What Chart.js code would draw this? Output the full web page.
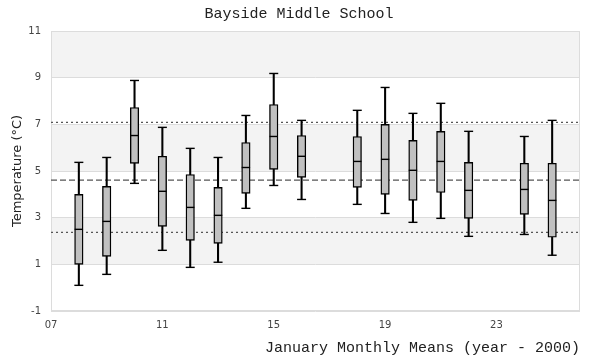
<!DOCTYPE html>
<html>
<head>
<meta charset="utf-8">
<script src="https://cdn.jsdelivr.net/npm/chart.js@4.4.0/dist/chart.umd.min.js"></script>
<style>
  html, body { margin: 0; padding: 0; background: #fff; }
  #wrap { width: 600px; height: 360px; }
</style>
</head>
<body>
<div id="wrap"><canvas id="boxChart" width="600" height="360"></canvas></div>
<script>
// January monthly means, year - 2000
const years   = [8, 9, 10, 11, 12, 13, 14, 15, 16, 18, 19, 20, 21, 22, 24, 25];
const mins    = [0.10, 0.57, 4.47, 1.60, 0.87, 1.09, 3.40, 4.38, 3.78, 3.57, 3.18, 2.80, 2.97, 2.20, 2.28, 1.39];
const q1s     = [1.00, 1.34, 5.33, 2.63, 2.03, 1.90, 4.04, 5.07, 4.73, 4.30, 4.00, 3.74, 4.08, 2.97, 3.14, 2.16];
const medians = [2.50, 2.84, 6.52, 4.13, 3.44, 3.10, 5.15, 6.48, 5.63, 5.41, 5.50, 5.03, 5.41, 4.17, 4.21, 3.74];
const q3s     = [4.00, 4.34, 7.72, 5.63, 4.85, 4.30, 6.22, 7.85, 6.52, 6.48, 7.00, 6.31, 6.70, 5.37, 5.33, 5.33];
const maxs    = [5.37, 5.58, 8.88, 6.87, 5.97, 5.58, 7.38, 9.18, 7.17, 7.60, 8.58, 7.47, 7.90, 6.70, 6.48, 7.17];

// overall mean and +/- one std dev
const meanTemp = 4.61;
const upperTemp = 7.08;
const lowerTemp = 2.37;

const xTicks = [7, 11, 15, 19, 23];
const xMin = 7, xMax = 26;
const yMin = -1, yMax = 11, yStep = 2;

const pts = (arr) => years.map((x, i) => ({ x: x, y: arr[i] }));
const hline = (v) => [{ x: xMin, y: v }, { x: xMax, y: v }];

// alternating bands + frame
const bandsPlugin = {
    id: 'bands',
    beforeDraw(chart) {
        const { ctx, chartArea: a, scales: { y } } = chart;
        const ticks = y.ticks;
        ctx.save();
        ctx.fillStyle = '#f3f3f3';
        for (let i = 0; i < ticks.length - 1; i++) {
            if (i % 2 === 1) {
                const top = y.getPixelForValue(ticks[i + 1].value);
                const bot = y.getPixelForValue(ticks[i].value);
                ctx.fillRect(a.left, top, a.right - a.left, bot - top);
            }
        }
        ctx.restore();
    },
    beforeDatasetsDraw(chart) {
        const { ctx, chartArea: a } = chart;
        ctx.save();
        ctx.strokeStyle = '#dcdcdc';
        ctx.lineWidth = 1;
        ctx.strokeRect(a.left + 0.5, a.top + 0.5, a.right - a.left - 1, a.bottom - a.top - 1);
        ctx.restore();
    }
};

const ctx = document.getElementById('boxChart').getContext('2d');
const chart = new Chart(ctx, {
    type: 'bar',
    data: {
        datasets: [
            {
                type: 'line',
                data: hline(upperTemp),
                borderColor: '#555',
                borderWidth: 1.2,
                borderDash: [2, 3],
                pointRadius: 0,
                order: 10
            },
            {
                type: 'line',
                data: hline(meanTemp),
                borderColor: '#555',
                borderWidth: 1.2,
                borderDash: [6, 3],
                pointRadius: 0,
                order: 10
            },
            {
                type: 'line',
                data: hline(lowerTemp),
                borderColor: '#555',
                borderWidth: 1.2,
                borderDash: [2, 3],
                pointRadius: 0,
                order: 10
            },
            // whiskers
            {
                data: years.map((x, i) => ({ x: x, y: [mins[i], maxs[i]] })),
                backgroundColor: '#000',
                borderWidth: 0,
                barThickness: 1.4,
                grouped: false,
                order: 5
            },
            // boxes
            {
                data: years.map((x, i) => ({ x: x, y: [q1s[i], q3s[i]] })),
                backgroundColor: '#c0c0c0',
                borderColor: '#000',
                borderWidth: 1.4,
                borderSkipped: false,
                barThickness: 8.5,
                grouped: false,
                order: 4
            },
            // medians
            {
                type: 'scatter',
                data: pts(medians),
                pointStyle: 'line',
                radius: 4.2,
                borderColor: '#000',
                borderWidth: 1.4,
                order: 1
            },
            // caps
            {
                type: 'scatter',
                data: pts(maxs),
                pointStyle: 'line',
                radius: 4.5,
                borderColor: '#000',
                borderWidth: 1.4,
                order: 1
            },
            {
                type: 'scatter',
                data: pts(mins),
                pointStyle: 'line',
                radius: 4.5,
                borderColor: '#000',
                borderWidth: 1.4,
                order: 1
            }
        ]
    },
    options: {
        responsive: false,
        animation: false,
        layout: {
            padding: { left: 10, right: 12, top: 0, bottom: 1 }
        },
        plugins: {
            legend: { display: false },
            tooltip: { enabled: false },
            title: {
                display: true,
                text: 'Bayside Middle School',
                color: '#222',
                font: { family: 'Liberation Mono', size: 15, weight: 'normal' },
                padding: { top: 5, bottom: 8 }
            }
        },
        scales: {
            x: {
                type: 'linear',
                min: xMin,
                max: xMax,
                offset: false,
                afterBuildTicks: (scale) => {
                    scale.ticks = xTicks.map(v => ({ value: v }));
                },
                ticks: {
                    padding: 8,
                    color: '#444',
                    font: { family: 'DejaVu Sans', size: 10 },
                    callback: (v) => String(v).padStart(2, '0')
                },
                grid: { display: false, drawTicks: false },
                border: { display: false },
                title: {
                    display: true,
                    text: 'January Monthly Means (year - 2000)',
                    align: 'end',
                    color: '#222',
                    font: { family: 'Liberation Mono', size: 15, weight: 'normal' },
                    padding: { top: 0, bottom: 2 }
                }
            },
            y: {
                min: yMin,
                max: yMax,
                afterFit: (scale) => { scale.width = 41; },
                ticks: {
                    stepSize: yStep,
                    padding: 10,
                    color: '#444',
                    font: { family: 'DejaVu Sans', size: 10 }
                },
                grid: { color: '#dcdcdc', lineWidth: 1, drawTicks: false },
                border: { display: false },
                title: {
                    display: true,
                    text: 'Temperature (°C)',
                    color: '#222',
                    font: { family: 'DejaVu Sans', size: 13 },
                    padding: { top: 0, bottom: 3 }
                }
            },
            // empty spacer so the plot ends where the reference does
            yRight: {
                position: 'right',
                display: true,
                ticks: { display: false },
                grid: { display: false, drawTicks: false },
                border: { display: false },
                afterFit: (scale) => { scale.width = 8; }
            }
        }
    },
    plugins: [bandsPlugin]
});
</script>
</body>
</html>
